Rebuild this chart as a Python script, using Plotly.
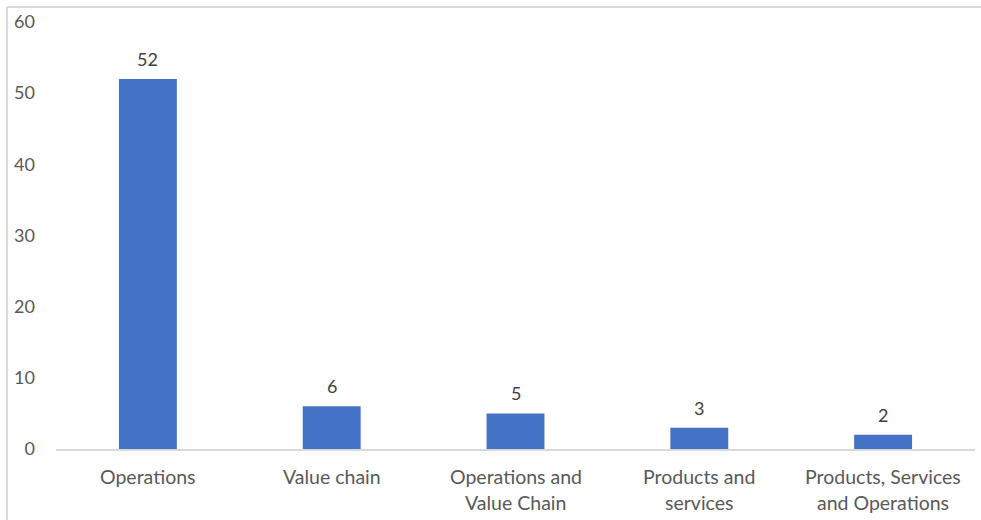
import plotly.graph_objects as go

categories = [
    "Operations",
    "Value chain",
    "Operations and<br>Value Chain",
    "Products and<br>services",
    "Products, Services<br>and Operations",
]
counts = [52, 6, 5, 3, 2]
y_ticks = [0, 10, 20, 30, 40, 50, 60]

W, H = 981, 520
ML, MR, MT, MB = 56, 6, 22, 71
pw = W - ML - MR
ph = H - MT - MB

FONT = "Lato"
TICK_COLOR = "#595959"
LABEL_COLOR = "#404040"

fig = go.Figure(
    go.Bar(
        x=categories,
        y=counts,
        marker=dict(color="#4472C4", line=dict(width=0)),
        hoverinfo="x+y",
    )
)

# value labels above each bar
for cat, val in zip(categories, counts):
    fig.add_annotation(
        x=cat, y=val, text=str(val), showarrow=False,
        yanchor="middle", yshift=20,
        font=dict(family=FONT, size=18, color=LABEL_COLOR),
    )

# category labels below the axis, one annotation per line
for cat in categories:
    for i, line in enumerate(cat.split("<br>")):
        fig.add_annotation(
            x=cat, y=0, yref="paper", text=line, showarrow=False,
            yanchor="middle", yshift=-(27 + 26 * i),
            font=dict(family=FONT, size=19.5, color=TICK_COLOR),
        )

# light frame along the top and left edges
frame = dict(type="line", xref="paper", yref="paper",
             line=dict(color="#D9D9D9", width=2))
left_x = (7 - ML) / pw
top_y = 1 + (MT - 7) / ph
bottom_y = -(MB + 2) / ph
fig.add_shape(frame, x0=left_x, x1=left_x, y0=bottom_y, y1=top_y)
fig.add_shape(frame, x0=left_x, x1=1 + (MR + 2) / pw, y0=top_y, y1=top_y)

fig.update_layout(
    width=W,
    height=H,
    margin=dict(l=ML, r=MR, t=MT, b=MB),
    paper_bgcolor="white",
    plot_bgcolor="white",
    bargap=0.685,
    showlegend=False,
    font=dict(family=FONT, color=TICK_COLOR, size=18),
)
fig.update_xaxes(
    showgrid=False,
    showline=True,
    linecolor="#D9D9D9",
    linewidth=1.5,
    ticks="",
    showticklabels=False,
)
fig.update_yaxes(
    range=[0, 60],
    tickvals=y_ticks,
    showgrid=False,
    zeroline=False,
    showline=False,
    ticks="",
    ticklabelstandoff=20,
    tickfont=dict(family=FONT, size=18, color=TICK_COLOR),
)

fig.write_html("out.html")
